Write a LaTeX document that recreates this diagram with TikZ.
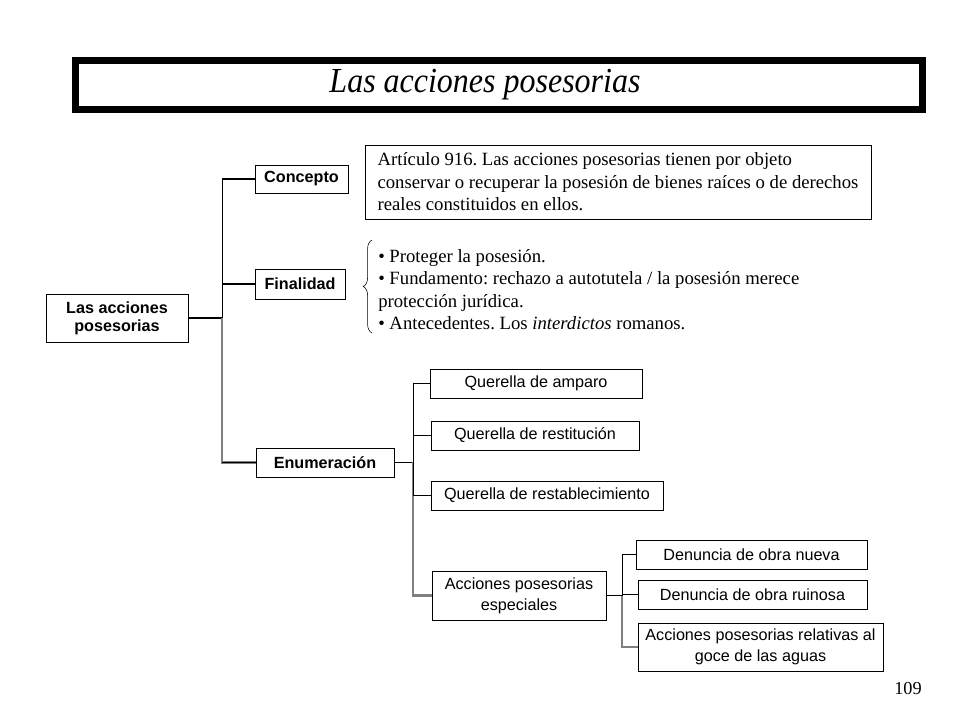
\documentclass[tikz,border=0pt]{standalone}
\usepackage{fontspec}
\setmainfont{Liberation Serif}
\setsansfont{Liberation Sans}
\usetikzlibrary{decorations.pathreplacing}

\tikzstyle{tema} = [draw, rectangle, inner sep=0pt, align=center, font=\sffamily\bfseries\fontsize{11.5}{13}\selectfont]
\tikzstyle{hoja} = [draw, rectangle, inner sep=0pt, align=center, font=\sffamily\fontsize{11.5}{15}\selectfont]
\tikzstyle{texto} = [inner sep=0pt, align=left, font=\frenchspacing\fontsize{13.3}{16}\selectfont]
\tikzstyle{link} = [line width=0.8pt]
\tikzstyle{linkdown} = [line width=1.5pt, gray]

\begin{document}
\begin{tikzpicture}[x=0.025cm, y=-0.025cm]
  \useasboundingbox (0,0) rectangle (960,720);
  \node at (499,85) (titulo) [draw, line width=0.175cm, minimum width=21.175cm, minimum height=1.225cm]
    {\fontsize{25}{30}\selectfont\itshape\hspace*{-0.7cm}\raisebox{-0.13cm}{\scalebox{0.91}[1]{Las acciones posesorias}}};

  \node at (117,318) (raiz) [tema, minimum width=3.55cm, minimum height=1.2cm] {Las acciones\\posesorias};
  \node at (301.5,179) (concepto) [tema, minimum width=2.325cm, minimum height=0.7cm] {Concepto};
  \node at (300,284) (finalidad) [tema, minimum width=2.25cm, minimum height=0.75cm] {Finalidad};
  \node at (325,462.5) (enum) [tema, minimum width=3.45cm, minimum height=0.725cm] {Enumeración};

  \node at (618,182) (articulo) [texto, draw, minimum width=12.65cm, minimum height=1.85cm]
    {Artículo 916. Las acciones posesorias tienen por objeto\\
     conservar o recuperar la posesión de bienes raíces o de derechos\\
     reales constituidos en ellos.};
  \node at (378,289.5) (fines) [texto, anchor=west]
    {\textbullet{} Proteger la posesión.\\
     \textbullet{} Fundamento: rechazo a autotutela / la posesión merece\\
     protección jurídica.\\
     \textbullet{} Antecedentes. Los \textit{interdictos} romanos.};
  \draw[decorate, decoration={brace, amplitude=0.22cm}] (372,333) -- (372,240);

  \node at (536,383.5) (amparo) [hoja, minimum width=5.3cm, minimum height=0.725cm] {Querella de amparo};
  \node at (535,435.5) (restit) [hoja, minimum width=5.2cm, minimum height=0.725cm] {Querella de restitución};
  \node at (547,495.5) (restab) [hoja, minimum width=5.8cm, minimum height=0.725cm] {Querella de restablecimiento};
  \node at (519,595.5) (especiales) [hoja, minimum width=4.35cm, minimum height=1.225cm] {Acciones posesorias\\especiales};

  \node at (751.5,554.5) (nueva) [hoja, minimum width=5.775cm, minimum height=0.725cm] {Denuncia de obra nueva};
  \node at (752.5,594.5) (ruinosa) [hoja, minimum width=5.725cm, minimum height=0.725cm] {Denuncia de obra ruinosa};
  \node at (760.5,647) (aguas) [hoja, minimum width=6.125cm, minimum height=1.2cm] {Acciones posesorias relativas al\\goce de las aguas};

  \node at (908,689) (pagina) [font=\fontsize{13}{15}\selectfont] {109};

  % ramas
  \draw[link] (raiz.east) -- ++(34,0) coordinate (j1);
  \draw[linkdown] (j1) |- (enum.west);
  \draw[link] (j1 |- enum.west) -- (enum.west);
  \draw[link] (j1) |- (concepto.west);
  \draw[link] (j1) |- (finalidad.west);

  \draw[link] (enum.east) -- ++(19,0) coordinate (j2);
  \draw[linkdown] (j2) |- (especiales.west);
  \draw[link] (j2) |- (amparo.west);
  \draw[link] (j2) |- (restit.west);
  \draw[link] (j2) |- (restab.west);

  \draw[link] (especiales.east) -- ++(16,0) coordinate (j3);
  \draw[linkdown] (j3) |- (aguas.west);
  \draw[link] (j3) |- (nueva.west);
  \draw[link] (j3) |- (ruinosa.west);
\end{tikzpicture}
\end{document}
